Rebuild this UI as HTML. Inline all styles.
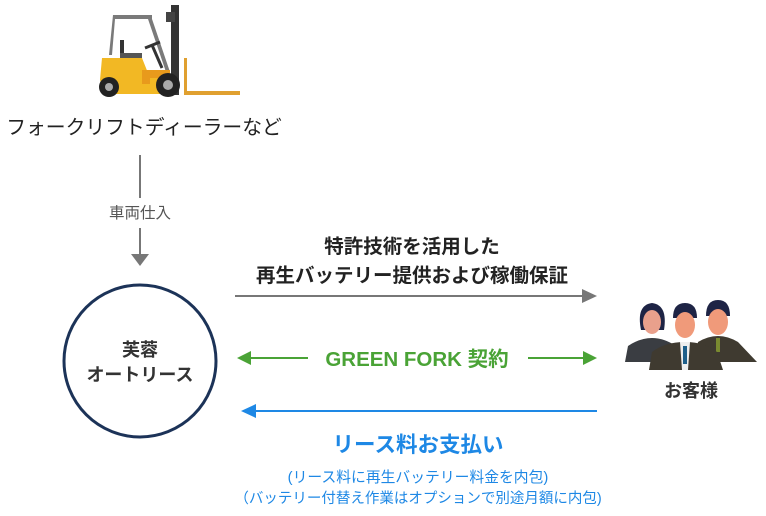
<!DOCTYPE html>
<html><head><meta charset="utf-8"><style>
html,body{margin:0;padding:0;background:#fff;}
svg{display:block;font-family:"Liberation Sans","Noto Sans CJK JP",sans-serif;}
</style></head><body>
<svg width="766" height="516" viewBox="0 0 766 516" xmlns="http://www.w3.org/2000/svg">
<!-- forklift -->
<g>
<rect x="171" y="5" width="8" height="90" fill="#333"/>
<rect x="166" y="12" width="9" height="10" fill="#444"/>
<path d="M113 15 L152 15 L152 19 L115 19 L112 55 L109 55 Z" fill="#7a7a7a"/>
<path d="M148 19 L152 19 L170 72 L166 72 Z" fill="#7a7a7a"/>
<rect x="120" y="40" width="4" height="15" fill="#333"/>
<rect x="120" y="53" width="22" height="6" fill="#555"/>
<path d="M145 48 L160 42 M152 45 L162 68" stroke="#333" stroke-width="3"/>
<path d="M102 58 L142 58 L150 78 L150 94 L104 94 L100 80 Z" fill="#f2b824"/>
<rect x="142" y="70" width="28" height="14" fill="#e89a1c"/>
<path d="M150 78 L176 78 L176 94 L150 94 Z" fill="#f2b824"/>
<rect x="184" y="58" width="3" height="37" fill="#e0a030"/>
<rect x="184" y="91" width="56" height="4" fill="#e0a030"/>
<circle cx="109" cy="87" r="10" fill="#222"/><circle cx="109" cy="87" r="4" fill="#aaa"/>
<circle cx="168" cy="85" r="12" fill="#222"/><circle cx="168" cy="85" r="5" fill="#aaa"/>
</g>
<text x="144" y="134" font-size="19.8" text-anchor="middle" fill="#222">フォークリフトディーラーなど</text>
<!-- vertical arrow -->
<line x1="140" y1="155" x2="140" y2="198" stroke="#777" stroke-width="2"/>
<text x="140" y="218" font-size="15.5" text-anchor="middle" fill="#555">車両仕入</text>
<line x1="140" y1="228" x2="140" y2="255" stroke="#777" stroke-width="2"/>
<path d="M131 254 L149 254 L140 266 Z" fill="#777"/>
<!-- circle -->
<circle cx="140" cy="361" r="76" fill="#fff" stroke="#1c3358" stroke-width="3"/>
<text x="140" y="356" font-size="18" font-weight="bold" text-anchor="middle" fill="#333">芙蓉</text>
<text x="140" y="381" font-size="18" font-weight="bold" text-anchor="middle" fill="#333">オートリース</text>
<!-- top arrow -->
<text x="412" y="253" font-size="19.5" font-weight="bold" text-anchor="middle" fill="#222">特許技術を活用した</text>
<text x="412" y="282" font-size="19.5" font-weight="bold" text-anchor="middle" fill="#222">再生バッテリー提供および稼働保証</text>
<line x1="235" y1="296" x2="584" y2="296" stroke="#777" stroke-width="2"/>
<path d="M582 289 L597 296 L582 303 Z" fill="#777"/>
<!-- green -->
<line x1="248" y1="358" x2="308" y2="358" stroke="#4aa336" stroke-width="2"/>
<path d="M251 351 L237 358 L251 365 Z" fill="#4aa336"/>
<text x="417" y="366" font-size="20.5" font-weight="bold" text-anchor="middle" fill="#4aa336">GREEN FORK 契約</text>
<line x1="528" y1="358" x2="585" y2="358" stroke="#4aa336" stroke-width="2"/>
<path d="M583 351 L597 358 L583 365 Z" fill="#4aa336"/>
<!-- blue -->
<line x1="252" y1="411" x2="597" y2="411" stroke="#1e88e5" stroke-width="2"/>
<path d="M256 404 L241 411 L256 418 Z" fill="#1e88e5"/>
<text x="418" y="452" font-size="21.5" font-weight="bold" text-anchor="middle" fill="#1e88e5">リース料お支払い</text>
<text x="418" y="482" font-size="14.8" text-anchor="middle" fill="#1e88e5">(リース料に再生バッテリー料金を内包)</text>
<text x="418" y="503" font-size="14.5" text-anchor="middle" fill="#1e88e5">（バッテリー付替え作業はオプションで別途月額に内包)</text>
<!-- people -->
<g>
<path d="M641 330 Q636 305 652 303 Q668 305 664 330 Z" fill="#1e2445"/>
<ellipse cx="652" cy="322" rx="9" ry="12" fill="#e9a08c"/>
<path d="M625 362 L628 346 Q640 338 652 338 Q664 338 676 346 L678 362 Z" fill="#3a3d42"/>
<path d="M706 316 Q706 300 718 300 Q730 300 730 316 Z" fill="#1e2445"/>
<ellipse cx="718" cy="322" rx="10" ry="13" fill="#f09a7a"/>
<path d="M694 362 L698 342 Q708 336 718 336 Q728 336 738 342 L757 362 Z" fill="#3f3a30"/>
<rect x="716" y="338" width="4" height="14" fill="#7a8a30"/>
<path d="M673 318 Q673 303 685 303 Q697 303 697 318 Z" fill="#1e2445"/>
<ellipse cx="685" cy="325" rx="10" ry="13" fill="#f09a7a"/>
<path d="M649 370 L652 352 Q665 342 685 342 Q705 342 717 352 L723 370 Z" fill="#3f3a30"/>
<path d="M680 342 L690 342 L688 370 L682 370 Z" fill="#eee"/>
<rect x="683" y="346" width="4" height="18" fill="#1e5f8a"/>
</g>
<text x="691" y="397" font-size="18" font-weight="bold" text-anchor="middle" fill="#333">お客様</text>
</svg>
</body></html>
